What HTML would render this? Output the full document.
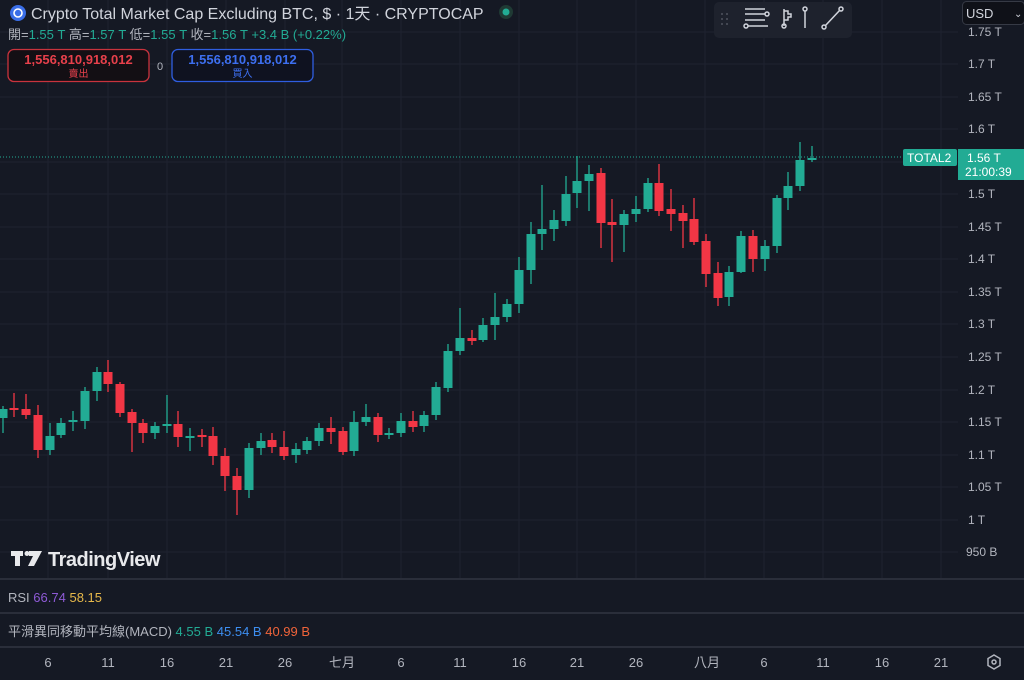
<!DOCTYPE html>
<html><head><meta charset="utf-8"><style>
body{margin:0;width:1024px;height:680px;overflow:hidden;background:#151924;font-family:"Liberation Sans","Noto Sans CJK TC",sans-serif}
svg{position:absolute;left:0;top:0}
</style></head><body>
<svg width="1024" height="680" xmlns="http://www.w3.org/2000/svg" font-family="Liberation Sans, Noto Sans CJK TC, sans-serif">
<rect width="1024" height="680" fill="#151924"/>
<g stroke="#1f2330" stroke-width="1">
<line x1="48" y1="0" x2="48" y2="578"/><line x1="108" y1="0" x2="108" y2="578"/><line x1="167" y1="0" x2="167" y2="578"/><line x1="226" y1="0" x2="226" y2="578"/><line x1="285" y1="0" x2="285" y2="578"/><line x1="342" y1="0" x2="342" y2="578"/><line x1="401" y1="0" x2="401" y2="578"/><line x1="460" y1="0" x2="460" y2="578"/><line x1="519" y1="0" x2="519" y2="578"/><line x1="577" y1="0" x2="577" y2="578"/><line x1="636" y1="0" x2="636" y2="578"/><line x1="705" y1="0" x2="705" y2="578"/><line x1="764" y1="0" x2="764" y2="578"/><line x1="823" y1="0" x2="823" y2="578"/><line x1="882" y1="0" x2="882" y2="578"/><line x1="941" y1="0" x2="941" y2="578"/>
<line x1="0" y1="32" x2="958" y2="32"/><line x1="0" y1="64" x2="958" y2="64"/><line x1="0" y1="97" x2="958" y2="97"/><line x1="0" y1="129" x2="958" y2="129"/><line x1="0" y1="162" x2="958" y2="162"/><line x1="0" y1="194" x2="958" y2="194"/><line x1="0" y1="227" x2="958" y2="227"/><line x1="0" y1="259" x2="958" y2="259"/><line x1="0" y1="292" x2="958" y2="292"/><line x1="0" y1="324" x2="958" y2="324"/><line x1="0" y1="357" x2="958" y2="357"/><line x1="0" y1="390" x2="958" y2="390"/><line x1="0" y1="422" x2="958" y2="422"/><line x1="0" y1="455" x2="958" y2="455"/><line x1="0" y1="487" x2="958" y2="487"/><line x1="0" y1="520" x2="958" y2="520"/><line x1="0" y1="552" x2="958" y2="552"/>
</g>
<g stroke="#2a2e3a" stroke-width="2"><line x1="0" y1="579" x2="1024" y2="579"/><line x1="0" y1="613" x2="1024" y2="613"/><line x1="0" y1="647" x2="1024" y2="647"/></g>
<line x1="0" y1="157" x2="904" y2="157" stroke="#22ab94" stroke-width="1" stroke-dasharray="1,2"/>
<g id="c"></g>
<g fill="#b2b5be" font-size="12">
<text x="968" y="36">1.75 T</text><text x="968" y="68">1.7 T</text><text x="968" y="101">1.65 T</text><text x="968" y="133">1.6 T</text><text x="968" y="198">1.5 T</text><text x="968" y="231">1.45 T</text><text x="968" y="263">1.4 T</text><text x="968" y="296">1.35 T</text><text x="968" y="328">1.3 T</text><text x="968" y="361">1.25 T</text><text x="968" y="394">1.2 T</text><text x="968" y="426">1.15 T</text><text x="968" y="459">1.1 T</text><text x="968" y="491">1.05 T</text><text x="968" y="524">1 T</text><text x="966" y="556">950 B</text>
</g>
<rect x="903" y="149" width="54" height="17" rx="2" fill="#22ab94"/><text x="907" y="162" fill="#fff" font-size="12">TOTAL2</text>
<rect x="958" y="149" width="66" height="31" fill="#22ab94"/><text x="967" y="162" fill="#fff" font-size="12">1.56 T</text><text x="965" y="176" fill="#fff" font-size="12">21:00:39</text>
<rect x="714" y="2" width="138" height="36" rx="5" fill="#1e222d"/>
<g stroke="#d1d4dc" stroke-width="1.5" fill="none">
<line x1="745" y1="9" x2="765" y2="9"/><line x1="745" y1="14" x2="765" y2="14"/><line x1="745" y1="20" x2="765" y2="20"/><line x1="748" y1="26" x2="768" y2="26"/><circle cx="767" cy="14" r="2"/><circle cx="746" cy="26" r="2"/>
<line x1="784" y1="9" x2="784" y2="26"/><path d="M784 11h4v3h3v3h-3v3h-4"/><circle cx="784" cy="26" r="2"/>
<circle cx="805" cy="9" r="2"/><line x1="805" y1="11" x2="805" y2="28"/>
<circle cx="824" cy="27" r="2"/><circle cx="841" cy="9" r="2"/><line x1="825" y1="26" x2="840" y2="10"/>
</g>
<g fill="#50535e"><circle cx="722" cy="14" r="1"/><circle cx="727" cy="14" r="1"/><circle cx="722" cy="19" r="1"/><circle cx="727" cy="19" r="1"/><circle cx="722" cy="24" r="1"/><circle cx="727" cy="24" r="1"/></g>
<rect x="962.5" y="1.5" width="62" height="23" rx="4" fill="#0f1118" stroke="#363a45"/><text x="966" y="18" fill="#d1d4dc" font-size="13">USD</text><text x="1014" y="17" fill="#d1d4dc" font-size="10">⌄</text>
<circle cx="18" cy="13" r="8" fill="#3a6ee8"/><circle cx="18" cy="13" r="4" fill="none" stroke="#fff" stroke-width="1.6"/>
<text x="31" y="19" fill="#d1d4dc" font-size="16">Crypto Total Market Cap Excluding BTC, $ · 1天 · CRYPTOCAP</text>
<circle cx="506" cy="12" r="7" fill="#1f3a34"/><circle cx="506" cy="12" r="3.5" fill="#22ab94"/>
<text x="8" y="39" font-size="13" fill="#b2b5be">開=<tspan fill="#22ab94">1.55 T</tspan> 高=<tspan fill="#22ab94">1.57 T</tspan> 低=<tspan fill="#22ab94">1.55 T</tspan> 收=<tspan fill="#22ab94">1.56 T  +3.4 B (+0.22%)</tspan></text>
<rect x="8" y="49.5" width="141" height="32" rx="6" fill="#130f14" stroke="#c9333d" stroke-width="1.3"/>
<text x="78.5" y="64" fill="#e7404b" font-size="13" font-weight="bold" text-anchor="middle">1,556,810,918,012</text><text x="78.5" y="77" fill="#e7404b" font-size="10" text-anchor="middle">賣出</text>
<text x="160" y="70" fill="#b2b5be" font-size="11" text-anchor="middle">0</text>
<rect x="172" y="49.5" width="141" height="32" rx="6" fill="#0f1220" stroke="#2f5ee0" stroke-width="1.3"/>
<text x="242.5" y="64" fill="#3d6ff0" font-size="13" font-weight="bold" text-anchor="middle">1,556,810,918,012</text><text x="242.5" y="77" fill="#3d6ff0" font-size="10" text-anchor="middle">買入</text>
<g fill="#e8e9ec"><rect x="11" y="551" width="12" height="5"/><rect x="15" y="551" width="5" height="15"/><path d="M29 551h13l-8 15h-6l5-10h-4z"/><circle cx="27" cy="553.5" r="2.5"/></g>
<text x="48" y="566" fill="#e8e9ec" font-size="20" font-weight="bold" letter-spacing="-0.5">TradingView</text>
<text x="8" y="602" font-size="13" fill="#b2b5be">RSI <tspan fill="#8e5ad6">66.74</tspan> <tspan fill="#e6b84a">58.15</tspan></text>
<text x="8" y="636" font-size="13" fill="#b2b5be">平滑異同移動平均線(MACD) <tspan fill="#22ab94">4.55 B</tspan> <tspan fill="#3d8ef0">45.54 B</tspan> <tspan fill="#f0643a">40.99 B</tspan></text>
<g fill="#b2b5be" font-size="13" text-anchor="middle">
<text x="48" y="667">6</text><text x="108" y="667">11</text><text x="167" y="667">16</text><text x="226" y="667">21</text><text x="285" y="667">26</text><text x="342" y="667">七月</text><text x="401" y="667">6</text><text x="460" y="667">11</text><text x="519" y="667">16</text><text x="577" y="667">21</text><text x="636" y="667">26</text><text x="707" y="667">八月</text><text x="764" y="667">6</text><text x="823" y="667">11</text><text x="882" y="667">16</text><text x="941" y="667">21</text>
</g>
<g fill="none" stroke="#b2b5be" stroke-width="1.5"><path d="M994 655l6 3.5v7l-6 3.5l-6-3.5v-7z"/><circle cx="994" cy="662" r="2"/></g>
</svg>
<script>
var d=[[3,409,418,406,433,1],[14,408,410,393,417,0],[26,409,415,394,419,0],[38,415,450,405,458,0],[50,436,450,423,455,1],[61,423,435,418,438,1],[73,420,422,411,431,1],[85,391,421,387,429,1],[97,372,391,367,401,1],[108,372,384,360,392,0],[120,384,413,382,417,0],[132,412,423,409,452,0],[143,423,433,419,443,0],[155,426,433,422,439,1],[167,424,425,395,433,1],[178,424,437,411,447,0],[190,436,437,428,451,1],[202,435,437,429,447,0],[213,436,456,427,465,0],[225,456,476,448,491,0],[237,476,490,468,515,0],[249,448,490,443,498,1],[261,441,448,433,455,1],[272,440,447,433,453,0],[284,447,456,431,460,0],[296,449,455,443,463,1],[307,441,450,437,454,1],[319,428,441,423,446,1],[331,428,432,417,444,0],[343,431,452,427,455,0],[354,422,451,411,456,1],[366,417,422,404,426,1],[378,417,435,413,442,0],[389,433,434,428,439,1],[401,421,433,413,437,1],[413,421,427,411,432,0],[424,415,426,411,432,1],[436,387,415,382,420,1],[448,351,388,344,392,1],[460,338,351,308,355,1],[472,338,341,330,345,0],[483,325,340,318,342,1],[495,317,325,293,340,1],[507,304,317,299,322,1],[519,270,304,257,313,1],[531,234,270,222,284,1],[542,229,234,185,250,1],[554,220,229,210,241,1],[566,194,221,176,226,1],[577,181,193,156,208,1],[589,174,181,165,211,1],[601,173,223,168,248,0],[612,222,225,199,262,0],[624,214,225,210,252,1],[636,209,214,196,222,1],[648,183,209,178,212,1],[659,183,211,164,216,0],[671,209,214,189,231,0],[683,213,221,205,248,0],[694,219,242,198,245,0],[706,241,274,234,287,0],[718,273,298,262,306,0],[729,272,297,266,306,1],[741,236,272,231,273,1],[753,236,259,230,272,0],[765,246,259,240,271,1],[777,198,246,195,253,1],[788,186,198,172,210,1],[800,160,186,142,191,1],[812,158,160,146,162,1]];
var s='';d.forEach(function(c){var col=c[5]?'#22ab94':'#f23645';var h=Math.max(2,c[2]-c[1]);s+='<line x1="'+c[0]+'" x2="'+c[0]+'" y1="'+c[3]+'" y2="'+c[4]+'" stroke="'+col+'" stroke-width="1.3"/><rect x="'+(c[0]-4.5)+'" y="'+c[1]+'" width="9" height="'+h+'" fill="'+col+'"/>';});
document.getElementById('c').innerHTML=s;
</script>
</body></html>
